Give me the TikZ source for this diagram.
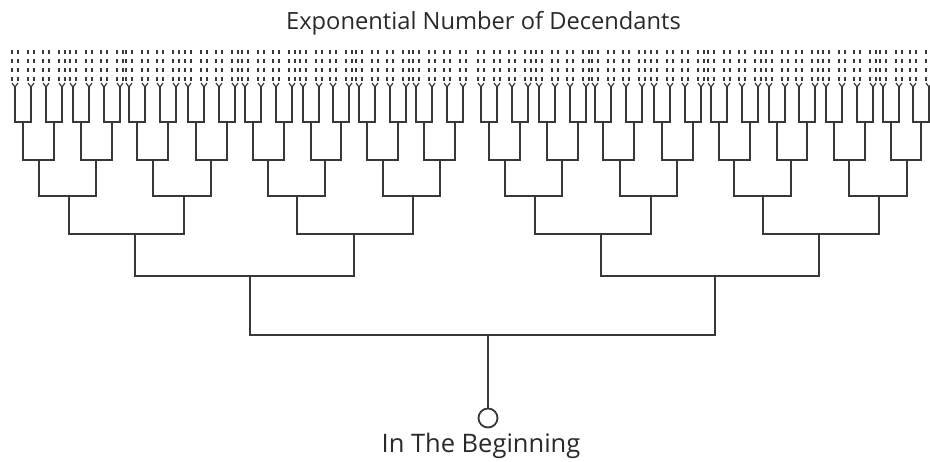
\documentclass[tikz,border=0pt]{standalone}
\usepackage{fontspec}
\setmainfont{Open Sans}
\definecolor{lc}{HTML}{383838}
\definecolor{tc}{HTML}{2A2A2A}
\begin{document}
\begin{tikzpicture}[x=1pt,y=-1pt,
  tree/.style={draw=lc, line width=1.8pt, line join=miter},
  twig/.style={draw=lc, line width=1.2pt},
  dashln/.style={draw=lc, line width=1.5pt, dash pattern=on 4pt off 5pt},
  label/.style={anchor=base, text=tc, inner sep=0pt}]
\useasboundingbox[fill=white] (0,0) rectangle (930,461);

% title and caption
\node[label, font=\fontsize{23.7}{28}\selectfont] (title) at (483.5,29) {Exponential Number of Decendants};
\node[label, font=\fontsize{25.5}{30}\selectfont] (caption) at (481,452) {In The Beginning};

% root
\node[circle, draw=lc, line width=1.8pt, minimum size=19pt, inner sep=0pt] (root) at (488,418) {};
\coordinate (l1) at (488,335);
\draw[tree] (root.north) -- (l1);

% level 1
\draw[tree] (250,276) -- (250,335) -- (715,335) -- (715,276);
% level 2
\foreach \a/\b in {135/354, 601/819}
  \draw[tree] (\a,234) -- (\a,276) -- (\b,276) -- (\b,234);
% level 3
\foreach \a/\b in {69/184, 297/413, 535/651, 763/879}
  \draw[tree] (\a,196) -- (\a,234) -- (\b,234) -- (\b,196);
% level 4
\foreach \a/\b in {39/96, 153/211, 268/325, 383/440, 505/562, 620/677, 734/791, 849/907}
  \draw[tree] (\a,160) -- (\a,196) -- (\b,196) -- (\b,160);
% level 5, level 6 and tips
\foreach \a/\b in {23/54, 81/112, 137/168, 196/227, 253/284, 311/341, 367/398, 424/455,
                   489/520, 547/578, 603/634, 662/693, 719/750, 777/807, 834/865, 891/921}{
  \draw[tree] (\a,122) -- (\a,160) -- (\b,160) -- (\b,122);
  \foreach \e in {\a,\b}{
    \draw[tree] ({\e-8},87) -- ({\e-8},122) -- ({\e+8},122) -- ({\e+8},87);
    \foreach \t in {\e-8,\e+8}{
      \draw[twig] ({\t-3},83) -- ({\t},87) -- ({\t+3},83);
      \draw[dashln] ({\t-3},81) -- ({\t-3},49);
      \draw[dashln] ({\t+3},81) -- ({\t+3},49);
    }
  }
}
\end{tikzpicture}
\end{document}
